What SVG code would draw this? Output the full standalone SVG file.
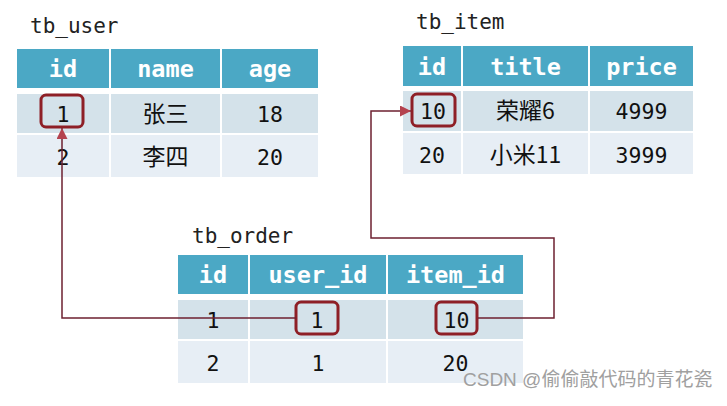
<svg xmlns="http://www.w3.org/2000/svg" width="727" height="406" viewBox="0 0 727 406">
<defs>
<style>
.hd{fill:#4ba8c5}
.r1{fill:#d4e2ea}
.r2{fill:#e7eef5}
.ht{font-family:"DejaVu Sans Mono","Liberation Mono",monospace;font-weight:bold;font-size:23.5px;fill:#ffffff;text-anchor:middle}
.bt{font-family:"DejaVu Sans Mono","Noto Sans CJK SC",monospace;font-size:21.5px;fill:#111111;text-anchor:middle}
.cj{font-family:"Noto Sans CJK SC",sans-serif;font-size:23px}
.lb{font-family:"DejaVu Sans Mono","Liberation Mono",monospace;font-size:21px;fill:#222222}
.hl{fill:none;stroke:#8e1f26;stroke-width:3}
.cn{fill:none;stroke:#6e2030;stroke-width:1.5}
.wm{font-family:"Liberation Sans","Noto Sans CJK SC",sans-serif;font-size:19px;fill:#a0a0a0}
</style>
<marker id="ah" markerUnits="userSpaceOnUse" markerWidth="11" markerHeight="11" viewBox="0 0 10 10" refX="10" refY="5" orient="auto">
<path d="M0,0 L10,5 L0,10 z" fill="#b4434f"/>
</marker>
</defs>
<rect width="727" height="406" fill="#ffffff"/>

<g id="tb_user">
<text class="lb" x="30" y="33">tb_user</text>
<rect class="hd" x="17" y="49" width="92" height="39"/>
<rect class="hd" x="111" y="49" width="109" height="39"/>
<rect class="hd" x="222" y="49" width="96" height="39"/>
<rect class="r1" x="17" y="94" width="92" height="39"/>
<rect class="r1" x="111" y="94" width="109" height="39"/>
<rect class="r1" x="222" y="94" width="96" height="39"/>
<rect class="r2" x="17" y="135" width="92" height="42"/>
<rect class="r2" x="111" y="135" width="109" height="42"/>
<rect class="r2" x="222" y="135" width="96" height="42"/>
<text class="ht" x="63" y="77">id</text>
<text class="ht" x="165.5" y="77">name</text>
<text class="ht" x="270" y="77">age</text>
<text class="bt" x="63" y="122">1</text>
<text class="bt cj" x="165.5" y="122">张三</text>
<text class="bt" x="270" y="122">18</text>
<text class="bt" x="63" y="165">2</text>
<text class="bt cj" x="165.5" y="165">李四</text>
<text class="bt" x="270" y="165">20</text>
<rect class="hl" x="41" y="95" width="42" height="32" rx="5"/>
</g>

<g id="tb_item">
<text class="lb" x="416" y="29">tb_item</text>
<rect class="hd" x="403" y="46" width="58" height="40"/>
<rect class="hd" x="463" y="46" width="125" height="40"/>
<rect class="hd" x="590" y="46" width="103" height="40"/>
<rect class="r1" x="403" y="91" width="58" height="40"/>
<rect class="r1" x="463" y="91" width="125" height="40"/>
<rect class="r1" x="590" y="91" width="103" height="40"/>
<rect class="r2" x="403" y="133" width="58" height="41"/>
<rect class="r2" x="463" y="133" width="125" height="41"/>
<rect class="r2" x="590" y="133" width="103" height="41"/>
<text class="ht" x="432" y="75">id</text>
<text class="ht" x="525.5" y="75">title</text>
<text class="ht" x="641.5" y="75">price</text>
<text class="bt" x="433" y="119">10</text>
<text class="bt cj" x="525.5" y="119">荣耀6</text>
<text class="bt" x="641.5" y="119">4999</text>
<text class="bt" x="432" y="163">20</text>
<text class="bt cj" x="525.5" y="163">小米11</text>
<text class="bt" x="641.5" y="163">3999</text>
<rect class="hl" x="412" y="94" width="43" height="32" rx="5"/>
</g>

<g id="tb_order">
<text class="lb" x="192" y="243">tb_order</text>
<rect class="hd" x="178" y="255" width="70" height="39"/>
<rect class="hd" x="250" y="255" width="136" height="39"/>
<rect class="hd" x="388" y="255" width="135" height="39"/>
<rect class="r1" x="178" y="300" width="70" height="39"/>
<rect class="r1" x="250" y="300" width="136" height="39"/>
<rect class="r1" x="388" y="300" width="135" height="39"/>
<rect class="r2" x="178" y="341" width="70" height="42"/>
<rect class="r2" x="250" y="341" width="136" height="42"/>
<rect class="r2" x="388" y="341" width="135" height="42"/>
<text class="ht" x="213" y="283">id</text>
<text class="ht" x="318" y="283">user_id</text>
<text class="ht" x="455.5" y="283">item_id</text>
<text class="bt" x="213" y="328">1</text>
<text class="bt" x="317" y="328">1</text>
<text class="bt" x="456.5" y="328">10</text>
<text class="bt" x="213" y="371">2</text>
<text class="bt" x="318" y="371">1</text>
<text class="bt" x="455.5" y="371">20</text>
<rect class="hl" x="296" y="302" width="42" height="32" rx="5"/>
<rect class="hl" x="436" y="302" width="41" height="32" rx="5"/>
</g>

<g id="connectors">
<path class="cn" d="M296,318 H62 V128" marker-end="url(#ah)"/>
<path class="cn" d="M478,318 H554 V238 H371 V111 H411" marker-end="url(#ah)"/>
</g>

<text class="wm" x="463" y="386">CSDN @偷偷敲代码的青花瓷</text>
</svg>
